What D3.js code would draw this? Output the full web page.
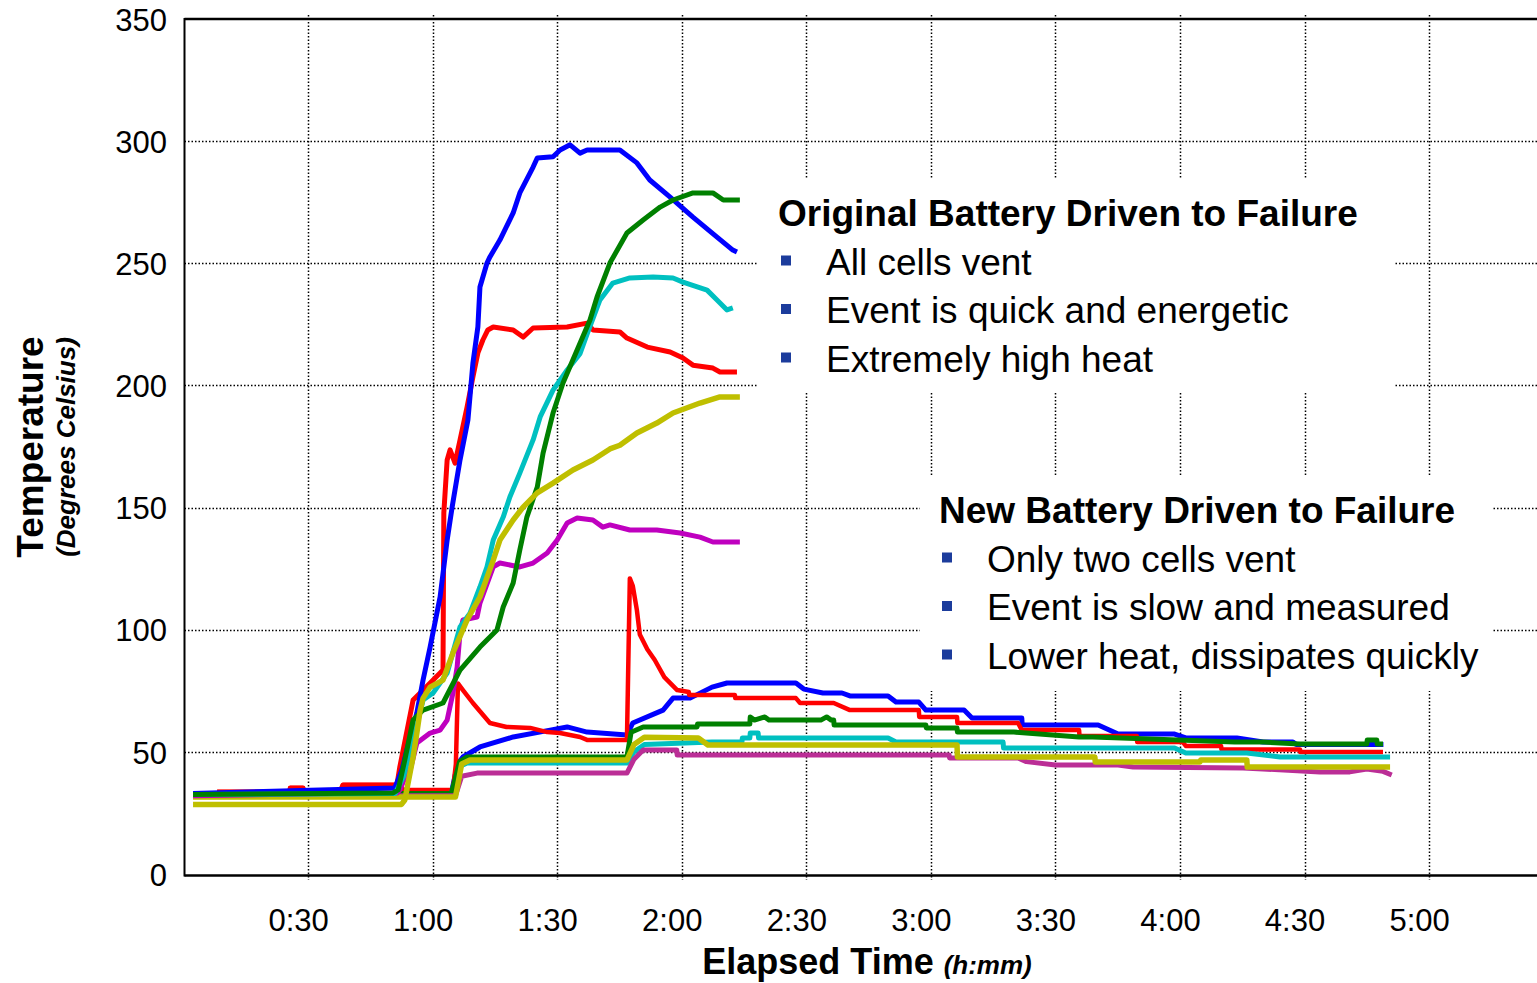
<!DOCTYPE html>
<html>
<head>
<meta charset="utf-8">
<script src="https://cdn.jsdelivr.net/npm/d3@7"></script>
<style>
  html, body { margin: 0; padding: 0; background: #fff; }
  svg { display: block; font-family: "Liberation Sans", Arial, sans-serif; }
</style>
</head>
<body>
<svg id="chart" width="1537" height="983"></svg>
<script>
// ---------------- DATA ----------------
// time in minutes, temperature in degrees Celsius
const xTickValues = [30, 60, 90, 120, 150, 180, 210, 240, 270, 300];
const xTickLabels = ["0:30", "1:00", "1:30", "2:00", "2:30", "3:00", "3:30", "4:00", "4:30", "5:00"];
const yTickValues = [0, 50, 100, 150, 200, 250, 300, 350];

// Original battery driven to failure
const origBlue = [[2.3,33],[50.9,35.2],[52.6,42.6],[53.8,50.8],[56.2,65.9],[57.7,79.4],[59.4,92.9],[61.8,113.4],[63.5,136.7],[64.7,150.2],[66.6,169.5],[68.5,185.8],[69.7,209],[70.9,224],[71.4,240.3],[73.1,250.1],[73.8,252.6],[76.2,259.5],[79.4,270.6],[81,278.8],[84.2,289.4],[85.2,293.1],[89,293.6],[90.7,296.4],[93.1,298.5],[95.5,295.1],[97.2,296.4],[105.1,296.4],[109.2,291.1],[112.3,284.1],[117.2,277.1],[122.7,268.9],[128.5,260.7],[132.3,255.4],[133.3,254.6]];
const origRed = [[8.1,33.6],[25.6,33.6],[25.7,35.2],[28.8,35.2],[28.9,33.6],[37.7,33.6],[38.4,36.4],[51.4,36.4],[52.1,43.8],[55.3,71.2],[57,74.1],[59.4,78.2],[61.8,82.3],[62.5,83.5],[62.7,147.8],[63.5,169.5],[64.2,173.6],[65.4,168.2],[66.6,177.7],[68.3,191.2],[69.7,203.4],[70.9,213.3],[72.1,218.6],[73.3,222.7],[74.6,223.9],[79.4,222.7],[81.8,219.8],[84.2,223.5],[92.4,223.9],[97.2,225.5],[98.6,222.7],[105.1,221.9],[106.8,219.4],[111.7,215.7],[117.2,213.7],[120.3,211.2],[122.7,208.3],[127.5,207.1],[129.2,205.5],[133.3,205.5]];
const origGreen = [[2.3,32.5],[50.5,33.2],[51.7,34.4],[53.3,46.7],[55.3,63],[57.7,67.1],[62.5,70],[66.6,83.5],[71.4,92.9],[75.5,99.9],[77,109.3],[79.4,119.1],[81,132.6],[82.7,146.1],[85.2,158.4],[86.6,172.3],[89,188.7],[91.4,201],[97.9,226.8],[99.6,236.2],[102.7,250.1],[106.8,262.4],[110.7,267.7],[114.8,273],[117.9,275.9],[122.7,278.8],[127.5,278.8],[130,275.9],[134,275.9]];
const origCyan = [[2.3,32.5],[51,33],[53,40],[55.3,54.9],[57.7,71.2],[60.1,74.1],[63.5,82.3],[66.6,101.1],[69,106.8],[71.4,117.5],[73.1,125.7],[74.6,136.7],[77,146.1],[78.6,154.3],[81,164.1],[84.2,177.7],[85.9,187.1],[89,198.1],[92.4,206.3],[95.5,213],[97.2,221],[100.3,235],[103.4,241.9],[107.5,244],[113.1,244.4],[117.9,244],[120.3,242.3],[126.1,239],[128.5,235],[130.9,230.9],[132.3,231.7]];
const origYellow = [[2.3,28.5],[52.5,28.5],[53.3,30.3],[55.3,47.9],[56.2,57.7],[57,67.1],[57.7,72],[59.4,76.5],[62.5,79.4],[64.9,90.5],[68.3,104],[71.4,113.4],[74.6,128.5],[76.2,136.7],[79.4,144.9],[81.8,150.2],[85.2,156],[89,160],[93.8,165.4],[98.6,169.5],[102.7,174],[105.1,175.5],[109.2,180.5],[114,184.6],[117.9,188.7],[124.4,192.8],[129.2,195.3],[134,195.3]];
const origMagenta = [[2.3,32],[44.2,33.2],[51.5,33.2],[52.1,34.4],[53.8,41.3],[54.6,42.6],[56.2,53.6],[59.4,57.7],[61.8,58.9],[63.5,63],[64.9,74.1],[65.9,84.7],[66.6,98.6],[67.3,104],[70.7,105.2],[71.4,110.9],[74.6,125.7],[76.2,127.3],[81,125.7],[84.2,127.3],[87.6,131.4],[90,136.7],[92.4,143.7],[94.8,145.7],[98.6,144.9],[101,142],[102.7,142.9],[107.5,140.8],[114,140.8],[119.6,139.6],[124.4,137.9],[127.5,135.9],[134,135.9]];

// New battery driven to failure
const newBlue = [[2.3,33],[64.5,33],[66,45],[67.3,47.9],[71.4,52],[79.4,56.1],[88.3,58.9],[92.4,60.2],[97.2,58.1],[106.8,56.9],[108.2,61.8],[115.5,67.1],[117.9,72],[122,72],[127.3,76.5],[130.9,78.2],[147.5,78.2],[149.4,75.7],[154,74.1],[158.6,74.1],[160.5,72.9],[169.7,72.9],[171.6,70.4],[177.1,70.4],[178.8,67.1],[188,67.1],[189.9,63.9],[201.9,63.9],[202,61],[220.3,61],[225.1,57.3],[238.7,57.3],[241.4,55.7],[253.7,55.7],[260,54],[267.2,54],[268,53],[289,53]];
const newRed = [[8.1,33.6],[25.6,33.6],[25.7,35.2],[28.8,35.2],[28.9,33.6],[37.7,33.6],[38.4,36.4],[52.1,36.4],[53,34.4],[64.9,34.4],[65.6,45],[66.1,78],[67.3,75.3],[69.7,70],[73.8,61.8],[77.8,60.2],[83.5,59.8],[87.6,58.1],[90.7,57.7],[95.5,56.1],[97.2,54.9],[106.8,54.9],[107.5,121],[108.2,118],[109.2,108],[109.9,98],[111.7,92],[113.5,87.6],[115.8,80.6],[118.9,75.3],[121.7,74.5],[121.8,73.3],[132.8,73.3],[132.9,72],[147.5,72],[148.5,70],[156.6,70],[160.5,67.1],[177.1,67.1],[177.2,64.3],[186.3,64.3],[186.4,61.8],[201,61.8],[201.9,58.9],[215.7,58.9],[215.8,56.5],[229.6,56.5],[229.7,54],[240.7,54],[241.4,52.4],[249.9,52.4],[250,51],[268.9,51],[269,49.9],[288.9,49.9]];
const newGreen = [[2.3,33],[64.5,33],[66.5,46],[68.3,47.9],[106.8,47.9],[107.8,58],[110.7,60.2],[123.7,60.2],[123.8,61.4],[136.4,61.4],[136.5,64.3],[137.5,63],[140,64.3],[141,63],[153.5,63],[154.9,64.3],[156,63],[156.6,63],[156.7,61],[178.8,61],[178.9,59.8],[186.3,59.8],[186.4,58.1],[200,58.1],[215.7,56.1],[219,56.1],[253.2,54],[260,54],[268.9,53.2],[285,53.2],[285.1,54.9],[287.4,54.9],[287.5,53.2],[288.9,53.2]];
const newCyan = [[2.3,33],[64.5,33],[66.5,44],[68.3,45.4],[106.8,45.4],[108.5,50],[111,53],[127.3,54],[134.5,54],[134.6,55.7],[136.4,55.7],[136.5,57.7],[138.4,57.7],[138.5,55.7],[169.7,55.7],[171.6,54],[197.4,54],[197.5,51.6],[238.7,51.6],[241.4,49.5],[256.1,49.5],[264.1,47.9],[290.6,47.9]];
const newYellow = [[2.3,31.5],[65.5,31.5],[67,45],[69,46.7],[106.8,46.7],[108.5,53],[111,56],[124,55.7],[126.3,52.8],[186.3,52.8],[186.4,47.9],[219.5,47.9],[219.6,45.8],[244.8,45.8],[245,46.7],[256.1,46.7],[256.2,43.8],[290.6,43.8]];
const newMagenta = [[2.3,32],[65.5,32],[67,40],[70.7,41.3],[106.8,41.3],[108.5,47],[110.7,50.8],[118.8,50.8],[118.9,48.7],[184.4,48.7],[184.5,47.5],[201,47.5],[203,46],[210,44.6],[225.1,44.6],[228.7,43.8],[255.2,43.4],[260,43],[273.7,41.8],[280.9,41.8],[285,43],[288.9,42],[291,40.5]];

// Text
const xTitle = "Elapsed Time";
const xTitleUnit = "(h:mm)";
const yTitle = "Temperature";
const yTitleUnit = "(Degrees Celsius)";
const origTitle = "Original Battery Driven to Failure";
const origItems = ["All cells vent", "Event is quick and energetic", "Extremely high heat"];
const newTitle = "New Battery Driven to Failure";
const newItems = ["Only two cells vent", "Event is slow and measured", "Lower heat, dissipates quickly"];

// ---------------- DRAWING ----------------
const svg = d3.select("#chart");
const plotLeft = 184.5, plotRight = 1540;

const x = d3.scaleLinear().domain([0, 300]).range([183.5, 1429.1]);
const y = d3.scaleLinear().domain([0, 350]).range([874, 19]);

// gridlines
const grid = svg.append("g").attr("class", "grid");
grid.selectAll("line.h").data(yTickValues.filter(v => v > 0 && v < 350)).join("line")
  .attr("x1", plotLeft).attr("x2", plotRight)
  .attr("y1", d => Math.round(y(d)) + 0.5).attr("y2", d => Math.round(y(d)) + 0.5)
  .attr("stroke", "#000").attr("stroke-width", 1.5).attr("stroke-dasharray", "1.5,2");
grid.selectAll("line.v").data(xTickValues).join("line")
  .attr("y1", 15).attr("y2", 880)
  .attr("x1", d => Math.round(x(d)) + 0.5).attr("x2", d => Math.round(x(d)) + 0.5)
  .attr("stroke", "#000").attr("stroke-width", 1.5).attr("stroke-dasharray", "1.5,2");

// white boxes behind the annotation text (hide gridlines)
svg.append("rect").attr("x", 757).attr("y", 178).attr("width", 638).attr("height", 214).attr("fill", "#fff");
svg.append("rect").attr("x", 920).attr("y", 475).attr("width", 572).attr("height", 216).attr("fill", "#fff");

// series
const line = d3.line().x(d => x(d[0])).y(d => y(d[1]));
const series = [
  {data: newBlue, color: "#0000ff", w: 5},
  {data: newRed, color: "#ff0000", w: 4.5},
  {data: newCyan, color: "#00c0c0", w: 5},
  {data: newGreen, color: "#008000", w: 5},
  {data: newMagenta, color: "#bb2e96", w: 5},
  {data: newYellow, color: "#bfbf00", w: 5.5},
  {data: origMagenta, color: "#bf00bf", w: 5},
  {data: origRed, color: "#ff0000", w: 5},
  {data: origBlue, color: "#0000ff", w: 5},
  {data: origCyan, color: "#00c0c0", w: 5},
  {data: origGreen, color: "#008000", w: 5},
  {data: origYellow, color: "#bfbf00", w: 5.5}
];
svg.append("g").selectAll("path").data(series).join("path")
  .attr("d", d => line(d.data))
  .attr("fill", "none")
  .attr("stroke", d => d.color)
  .attr("stroke-width", d => d.w)
  .attr("stroke-linejoin", "round");

// axes frame
svg.append("line").attr("x1", plotLeft).attr("x2", plotRight).attr("y1", 19).attr("y2", 19)
  .attr("stroke", "#000").attr("stroke-width", 2.5);
svg.append("line").attr("x1", plotLeft).attr("x2", plotLeft).attr("y1", 18).attr("y2", 876.5)
  .attr("stroke", "#000").attr("stroke-width", 2);

// x axis
const xAxis = svg.append("g").attr("transform", "translate(0,875.5)")
  .call(d3.axisBottom(x).tickValues(xTickValues).tickFormat((d, i) => xTickLabels[i]).tickSize(0).tickPadding(33));
xAxis.select(".domain").remove();
svg.append("line").attr("x1", plotLeft).attr("x2", plotRight).attr("y1", 875.5).attr("y2", 875.5)
  .attr("stroke", "#000").attr("stroke-width", 2.5);
xAxis.selectAll("text").attr("font-size", 31).attr("font-family", "Liberation Sans, Arial, sans-serif")
  .attr("fill", "#000").attr("dx", -10);

// y axis
const yAxis = svg.append("g").attr("transform", "translate(185,0)")
  .call(d3.axisLeft(y).tickValues(yTickValues).tickFormat(d3.format("d")).tickSize(0).tickPadding(18));
yAxis.select(".domain").remove();
yAxis.selectAll("text").attr("font-size", 31).attr("font-family", "Liberation Sans, Arial, sans-serif")
  .attr("fill", "#000").attr("dy", "0.36em");

// axis titles
const xt = svg.append("text").attr("x", 867).attr("y", 974).attr("text-anchor", "middle")
  .attr("fill", "#000");
xt.append("tspan").attr("font-size", 36).attr("font-weight", "bold").text(xTitle + " ");
xt.append("tspan").attr("font-size", 26).attr("font-weight", "bold").attr("font-style", "italic").text(xTitleUnit);

svg.append("text").attr("transform", "translate(43,447) rotate(-90)").attr("text-anchor", "middle")
  .attr("font-size", 37).attr("font-weight", "bold").attr("fill", "#000").text(yTitle);
svg.append("text").attr("transform", "translate(75,447) rotate(-90)").attr("text-anchor", "middle")
  .attr("font-size", 26).attr("font-weight", "bold").attr("font-style", "italic").attr("fill", "#000").text(yTitleUnit);

// annotation blocks
function block(title, items, x0, xt0, base) {
  const g = svg.append("g");
  g.append("text").attr("x", x0).attr("y", base).attr("font-size", 37).attr("font-weight", "bold")
    .attr("fill", "#000").text(title);
  items.forEach((t, i) => {
    const b = base + 48.5 * (i + 1);
    g.append("rect").attr("x", x0 + 3).attr("y", b - 19).attr("width", 10).attr("height", 10).attr("fill", "#1c3c9c");
    g.append("text").attr("x", xt0).attr("y", b).attr("font-size", 37).attr("fill", "#000").text(t);
  });
}
block(origTitle, origItems, 778, 826, 226);
block(newTitle, newItems, 939, 987, 523);
</script>
</body>
</html>
